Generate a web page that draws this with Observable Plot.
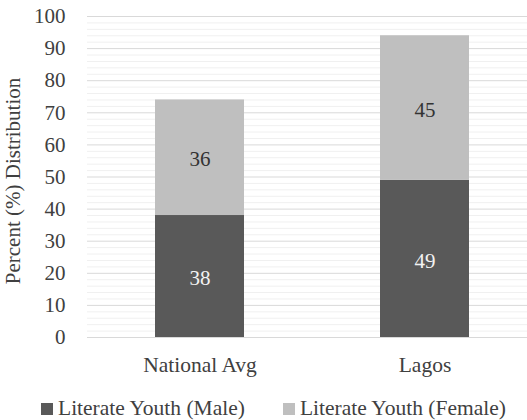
<!DOCTYPE html>
<html>
<head>
<meta charset="utf-8">
<script src="https://cdn.jsdelivr.net/npm/d3@7"></script>
<script src="https://cdn.jsdelivr.net/npm/@observablehq/plot@0.6"></script>
<style>
  body { margin: 0; background: #fff; font-family: "Liberation Serif", "DejaVu Serif", serif; }
  #chart { width: 527px; }
  .legend { display: flex; gap: 38px; margin-left: 41px; margin-top: 11px; font-size: 21.5px; line-height: 24px; color: #404040; }
  .legend span.sw { display: inline-block; width: 12px; height: 12px; margin-right: 5px; vertical-align: 0px; }
</style>
</head>
<body>
<div id="chart"></div>
<script>
const categories = ["National Avg", "Lagos"];
const series = ["Literate Youth (Male)", "Literate Youth (Female)"];
const maleValues = [38, 49];
const femaleValues = [36, 45];
const colors = ["#595959", "#bfbfbf"];
const labelColors = ["#f2f2f2", "#333333"];
const yTicks = [0, 10, 20, 30, 40, 50, 60, 70, 80, 90, 100];

const data = [];
categories.forEach((c, i) => {
  data.push({cat: c, series: series[0], value: maleValues[i]});
  data.push({cat: c, series: series[1], value: femaleValues[i]});
});
const minor = d3.range(0, 101, 2).filter(v => v % 10 !== 0);

const plot = Plot.plot({
  width: 527,
  height: 385,
  marginLeft: 87,
  marginRight: 0,
  marginTop: 16,
  marginBottom: 48,
  style: "font-family: 'Liberation Serif', 'DejaVu Serif', serif; font-size: 21px; color: #404040; background: #fff; overflow: visible;",
  x: {domain: categories, range: [87, 537], paddingInner: 0.604, paddingOuter: 0.302, label: null},
  y: {domain: [0, 100], ticks: yTicks, label: null},
  color: {domain: series, range: colors},
  marks: [
    Plot.ruleY(minor, {stroke: "#f0f0f0", strokeWidth: 1}),
    Plot.ruleY(yTicks, {stroke: "#d9d9d9", strokeWidth: 1}),
    Plot.barY(data, {x: "cat", y: "value", z: "series", fill: "series", order: series}),
    Plot.text(data, Plot.stackY({x: "cat", y: "value", z: "series", order: series, text: d => String(d.value),
      fill: d => labelColors[series.indexOf(d.series)], fontSize: 21, fontFamily: "Liberation Serif", dy: 2})),
    Plot.axisY({ticks: yTicks, tickSize: 0, tickPadding: 22, fontSize: 21, fontFamily: "Liberation Serif", label: null}),
    Plot.axisX({tickSize: 0, tickPadding: 19, fontSize: 21.5, fontFamily: "Liberation Serif", label: null}),
    Plot.text(["Percent (%) Distribution"], {frameAnchor: "left", textAnchor: "middle", dx: -74, dy: 4, rotate: -90, fontSize: 21, fontFamily: "Liberation Serif", fill: "#404040"})
  ]
});
document.getElementById("chart").appendChild(plot);

const legend = document.createElement("div");
legend.className = "legend";
series.forEach((s, i) => {
  const item = document.createElement("div");
  const sw = document.createElement("span");
  sw.className = "sw";
  sw.style.background = colors[i];
  item.appendChild(sw);
  item.appendChild(document.createTextNode(s));
  legend.appendChild(item);
});
document.getElementById("chart").appendChild(legend);
</script>
</body>
</html>
